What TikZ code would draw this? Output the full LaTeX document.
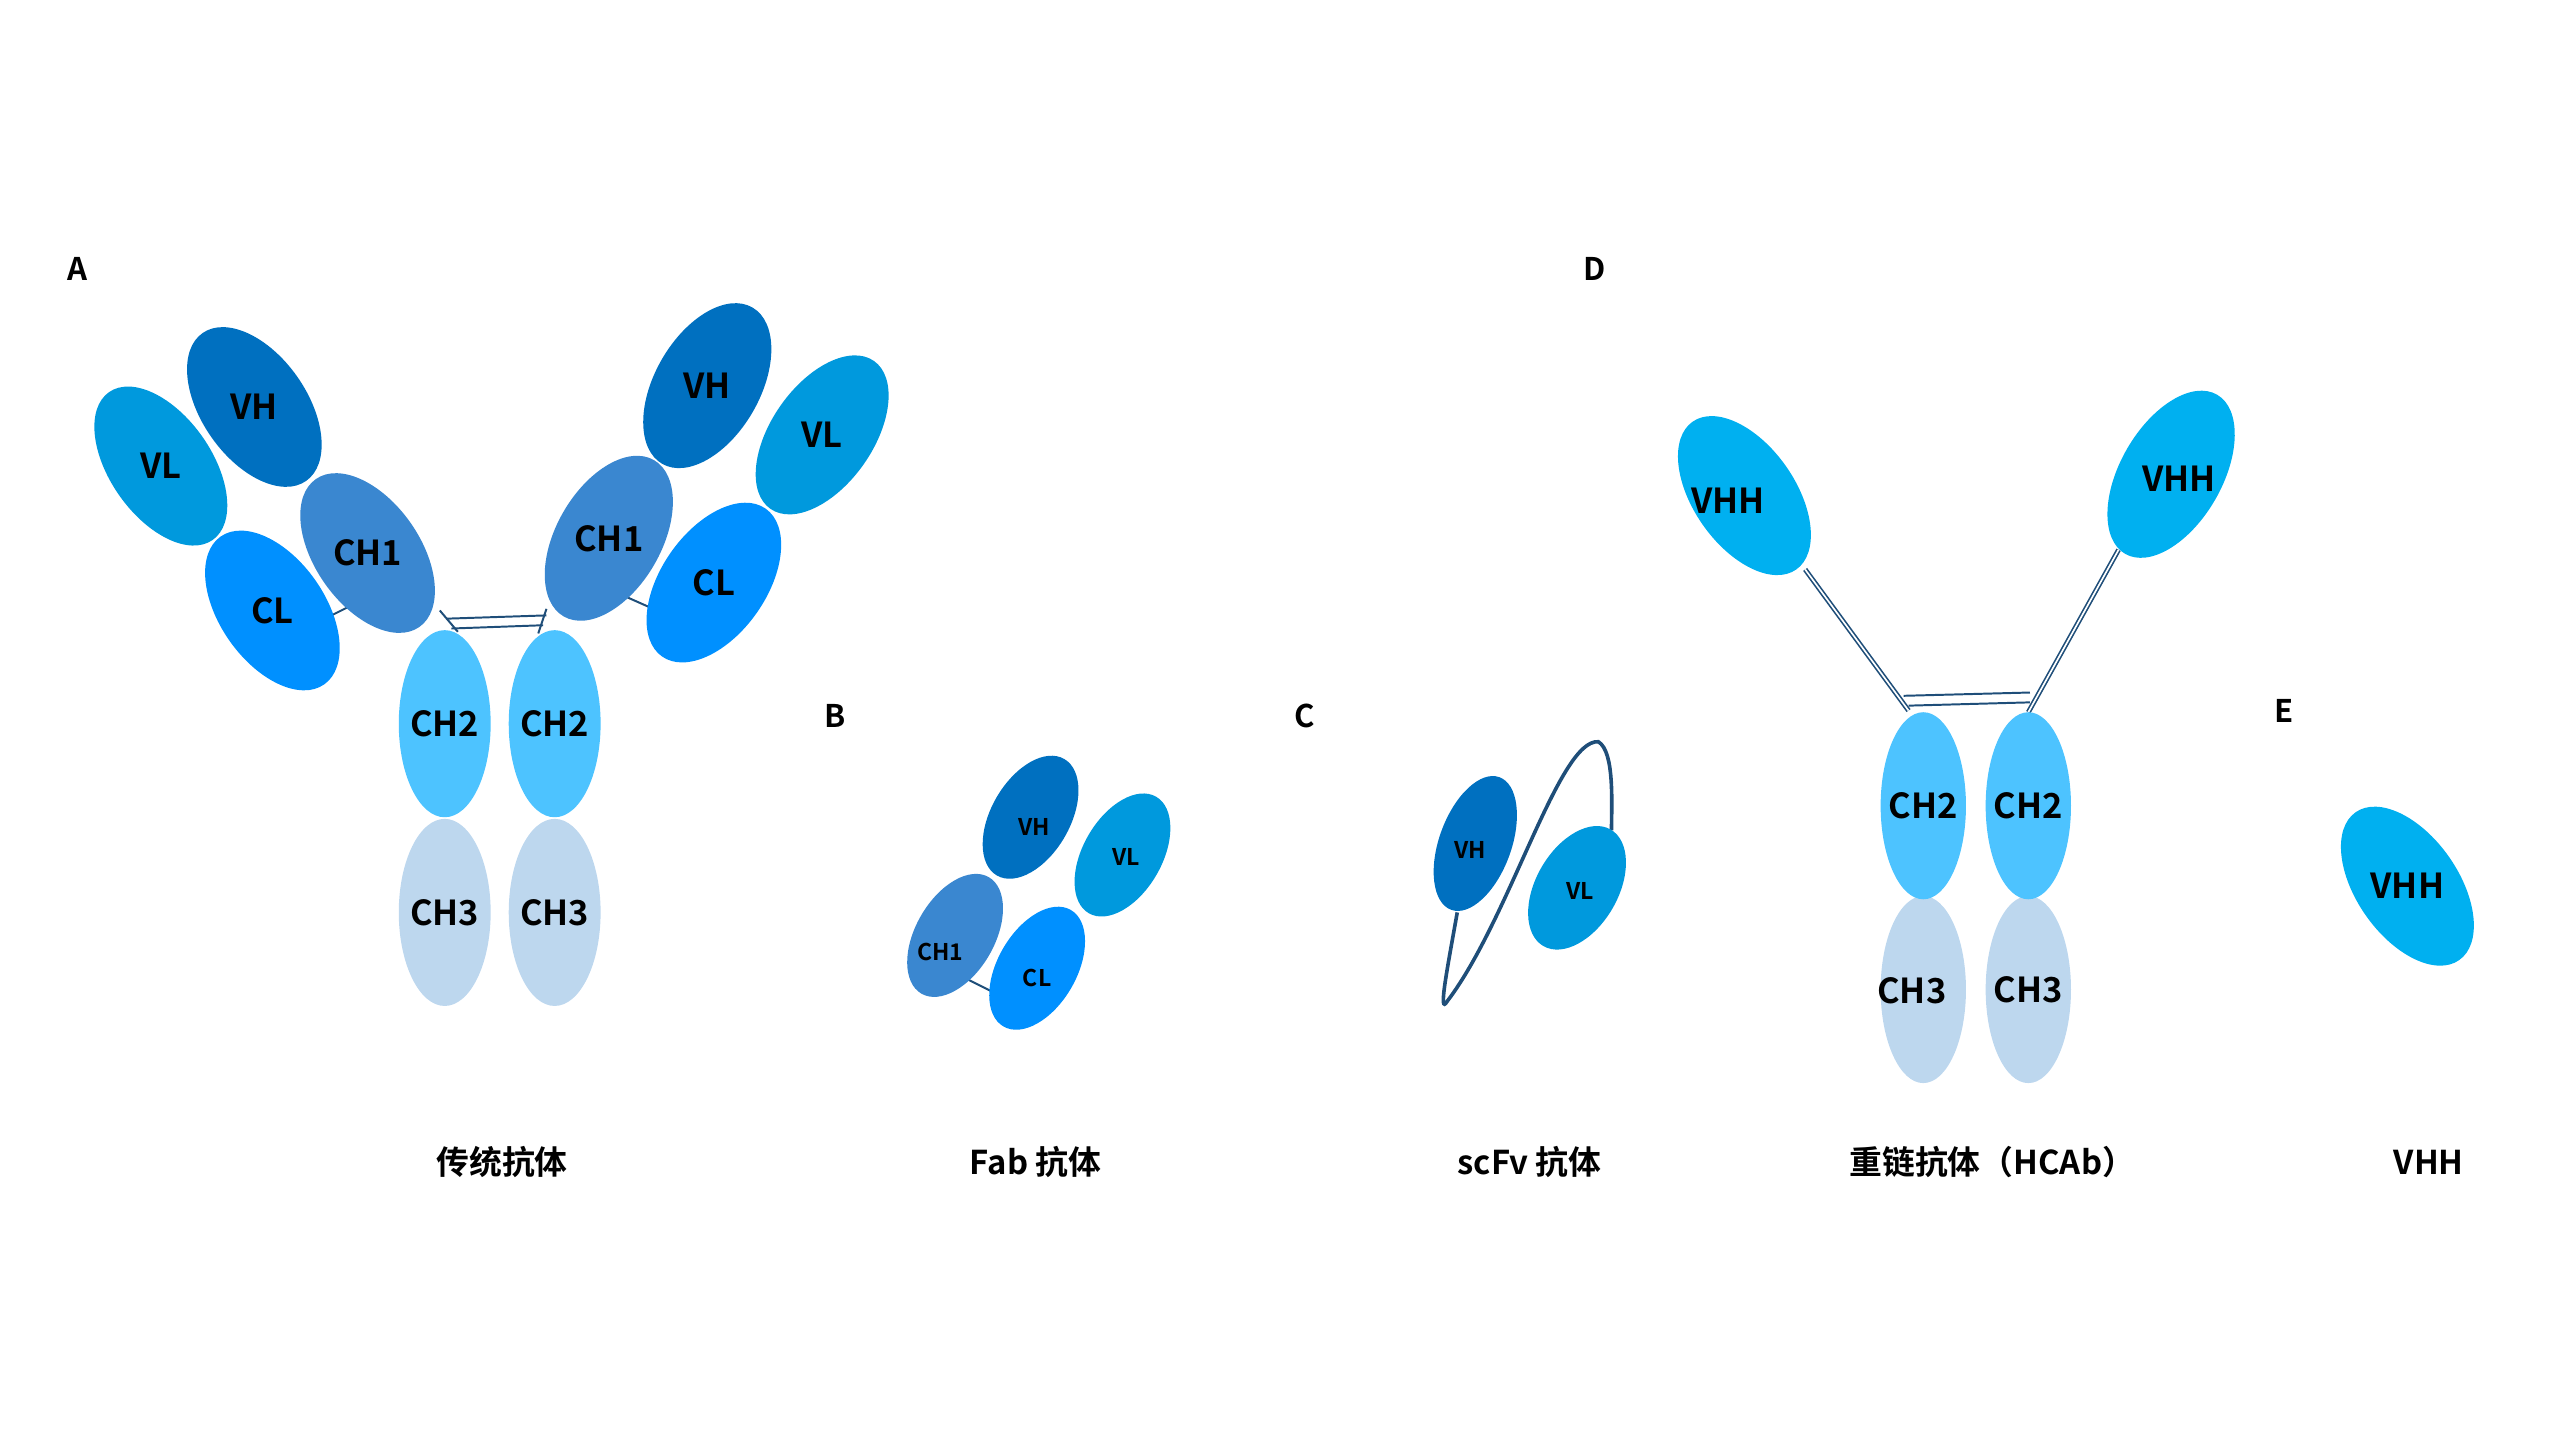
\documentclass[tikz,border=0pt]{standalone}
\usepackage{fontspec}
\setmainfont{Noto Sans CJK SC}[BoldFont={* Bold}]
\definecolor{cVL}{HTML}{0099DD}
\definecolor{cVH}{HTML}{0070C0}
\definecolor{cCHa}{HTML}{3A87D0}
\definecolor{cCL}{HTML}{0090FF}
\definecolor{cCHb}{HTML}{4DC3FF}
\definecolor{cCHc}{HTML}{BDD7EE}
\definecolor{cVHH}{HTML}{00B0F0}
\definecolor{cLn}{HTML}{1F4E79}
\newcommand{\dom}[8]{\fill[#6, rotate around={#5:(#1,#2)}] (#1,#2) ellipse ({#3} and {#4});
  \node[lab] (#7) at (#1,#2) {#8};}
\tikzset{lab/.style={font=\bfseries\fontsize{21}{24}\selectfont, text=black},
  slab/.style={font=\bfseries\fontsize{14}{16}\selectfont, text=black},
  letter/.style={font=\bfseries\fontsize{19}{22}\selectfont},
  captext/.style={font=\bfseries\fontsize{20}{24}\selectfont},
  ln/.style={cLn, line width=1.2pt}}
\begin{document}
\begin{tikzpicture}[x=1pt,y=-1pt]
\useasboundingbox (0,0) rectangle (1560,878);
% A
\draw[ln] (200,376) -- (218,367);
\draw[ln] (380,363) -- (398,371);
\draw[ln] (268,372) -- (279,385);
\draw[ln] (333,371) -- (328,386);
\draw[ln] (272,377) -- (333,375);
\draw[ln] (275,383) -- (331,381);
\dom{98}{284}{31}{55}{35}{cVL}{aVL}{VL}
\dom{155}{248}{32}{55}{35}{cVH}{aVH}{VH}
\dom{224}{337}{32}{55}{35}{cCHa}{aCHa}{CH1}
\dom{166}{372}{32}{55}{35}{cCL}{aCL}{CL}
\dom{501}{265}{31}{55}{-35}{cVL}{bVL}{VL}
\dom{431}{235}{32}{55}{-30}{cVH}{bVH}{VH}
\dom{371}{328}{32}{55}{-30}{cCHa}{bCHa}{CH1}
\dom{435}{355}{32}{55}{-35}{cCL}{bCL}{CL}
\dom{271}{556}{28}{57}{0}{cCHc}{aCHc}{CH3}
\dom{338}{556}{28}{57}{0}{cCHc}{bCHc}{CH3}
\dom{271}{441}{28}{57}{0}{cCHb}{aCHb}{CH2}
\dom{338}{441}{28}{57}{0}{cCHb}{bCHb}{CH2}
% B
\draw[ln] (590,597) -- (604,604);
\fill[cVH, rotate around={-30:(628,498)}] (628,498) ellipse (24 and 41); \node[slab] (fVH) at (630,504) {VH};
\fill[cVL, rotate around={-30:(684,521)}] (684,521) ellipse (24 and 41); \node[slab] (fVL) at (686,522) {VL};
\fill[cCHa, rotate around={-30:(582,570)}] (582,570) ellipse (24 and 41); \node[slab] (fCH) at (573,580) {CH1};
\fill[cCL, rotate around={-30:(632,590)}] (632,590) ellipse (24 and 41); \node[slab] (fCL) at (632,596) {CL};
% C
\draw[cLn, line width=2.2pt] (888,556) .. controls (882,590) and (876,620) .. (882,610)
  .. controls (920,560) and (950,450) .. (974,452) .. controls (984,458) and (982,490) .. (982,506);
\fill[cVH, rotate around={-20:(899,514)}] (899,514) ellipse (22 and 43); \node[slab] (sVH) at (896,518) {VH};
\fill[cVL, rotate around={-30:(961,541)}] (961,541) ellipse (25 and 41); \node[slab] (sVL) at (963,543) {VL};
% D
\draw[cLn, line width=3pt] (1100,347) -- (1163,433);
\draw[white, line width=1pt] (1100,347) -- (1163,433);
\draw[cLn, line width=3pt] (1291,335) -- (1236,434);
\draw[white, line width=1pt] (1291,335) -- (1236,434);
\draw[ln] (1160,424) -- (1237,422);
\draw[ln] (1163,430) -- (1237,428);
\dom{1063}{302}{31}{55}{35}{cVHH}{dVHa}{}
\node[lab] at (1053,305) {VHH};
\dom{1323}{289}{31}{56}{-30}{cVHH}{dVHb}{}
\node[lab] at (1328,292) {VHH};
\dom{1172}{603}{26}{57}{0}{cCHc}{dCHc}{}
\node[lab] at (1165,604) {CH3};
\dom{1236}{603}{26}{57}{0}{cCHc}{eCHc}{CH3}
\dom{1172}{491}{26}{57}{0}{cCHb}{dCHb}{CH2}
\dom{1236}{491}{26}{57}{0}{cCHb}{eCHb}{CH2}
% E
\dom{1467}{540}{31}{55}{35}{cVHH}{eVHH}{VHH}
% letters
\node[letter] (LA) at (47,164) {A};
\node[letter] (LB) at (509,436) {B};
\node[letter] (LC) at (795,436) {C};
\node[letter] (LD) at (972,164) {D};
\node[letter] (LE) at (1392,433) {E};
% captions
\node[captext] (t1) at (306,708) {传统抗体};
\node[captext] (t2) at (631,708) {Fab 抗体};
\node[captext] (t3) at (932,708) {scFv 抗体};
\node[captext] (t4) at (1214,708) {重链抗体（HCAb）};
\node[captext] (t5) at (1480,708) {VHH};
\end{tikzpicture}
\end{document}
